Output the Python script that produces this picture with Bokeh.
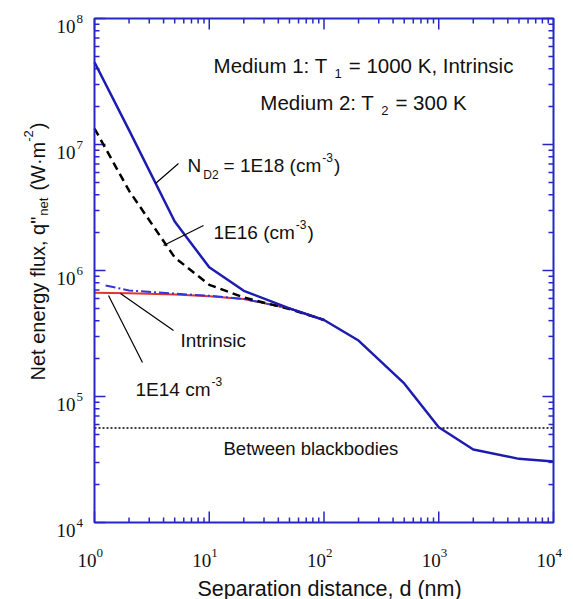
import math

from bokeh.embed import file_html
from bokeh.models import Label
from bokeh.plotting import figure
from bokeh.resources import INLINE

# ---------------------------------------------------------------- data
# separation distance d (nm) and net heat flux q'' (W/m^2)
d_full = [1, 2, 5, 10, 20, 50, 100, 200, 500, 1000, 2000, 5000, 10000]
q_1e18 = [4.5e7, 1.3e7, 2.45e6, 1.06e6, 6.9e5, 5.0e5, 4.05e5,
          2.78e5, 1.27e5, 5.7e4, 3.8e4, 3.2e4, 3.05e4]

d_near = [1, 2, 5, 10, 20, 50, 100]
q_1e16 = [1.34e7, 4.3e6, 1.27e6, 7.7e5, 6.1e5, 4.95e5, 4.05e5]
q_intrinsic = [6.65e5, 6.6e5, 6.45e5, 6.25e5, 5.95e5, 5.0e5, 4.05e5]

d_1e14 = [1.25, 2, 5, 10, 20, 50, 100]
q_1e14 = [7.6e5, 6.95e5, 6.55e5, 6.3e5, 5.95e5, 5.0e5, 4.05e5]

d_bb = [1, 10000]
q_bb = [5.62e4, 5.62e4]

x_decades = [0, 1, 2, 3, 4]
y_decades = [4, 5, 6, 7, 8]

# ---------------------------------------------------------------- styles
AXIS = "#2626c8"
BLUE = "#1c1cb0"
BLUE_DD = "#3434dc"
RED = "#e3342a"
INK = "#111111"
SANS = "Liberation Sans"
SERIF = "Liberation Serif"

# the plot box sits inside the canvas; the frame spans the whole canvas so
# that tick numbers and titles can be placed around the box
W, H = 573, 599
LEFT, RIGHT, TOP, BOTTOM = 94, 20, 18, 77
XMIN, XMAX = 10 ** x_decades[0], 10 ** x_decades[-1]
YMIN, YMAX = 10 ** y_decades[0], 10 ** y_decades[-1]
XDEC = (W - LEFT - RIGHT) / (x_decades[-1] - x_decades[0])
YDEC = (H - TOP - BOTTOM) / (y_decades[-1] - y_decades[0])


def px_x(px):
    """canvas pixel column -> data x"""
    return XMIN * 10 ** ((px - LEFT) / XDEC)


def px_y(py):
    """canvas pixel row -> data y"""
    return YMAX * 10 ** (-(py - TOP) / YDEC)


# Arial / Liberation Sans advance widths (1/1000 em)
ADV = {" ": 278, '"': 355, "(": 333, ")": 333, ",": 278, "-": 333, ":": 278,
       "=": 584, "·": 278, "−": 584,
       "B": 667, "D": 722, "E": 667, "I": 278, "K": 667, "M": 833, "N": 722,
       "S": 667, "T": 611, "W": 944,
       "a": 556, "b": 556, "c": 500, "d": 556, "e": 556, "f": 278, "g": 556,
       "i": 222, "k": 500, "l": 222, "m": 833, "n": 556, "o": 556, "p": 556,
       "q": 556, "r": 333, "s": 500, "t": 278, "u": 556, "w": 722, "x": 500,
       "y": 500}


def text_w(s, size):
    return sum(ADV.get(c, 556) for c in s) / 1000.0 * size


p = figure(width=W, height=H, x_axis_type="log", y_axis_type="log",
           x_range=(px_x(0), px_x(W)), y_range=(px_y(H), px_y(0)),
           x_axis_location=None, y_axis_location=None,
           output_backend="svg", toolbar_location=None,
           min_border=0, background_fill_color="white",
           border_fill_color="white")
p.grid.visible = False
p.outline_line_color = None

# ---------------------------------------------------------------- box and ticks
MAJOR, MINOR = 11, 5
fx_major, fx_minor = 10 ** (MAJOR / XDEC), 10 ** (MINOR / XDEC)
fy_major, fy_minor = 10 ** (MAJOR / YDEC), 10 ** (MINOR / YDEC)


def decade_ticks(decades):
    major = [10.0 ** k for k in decades]
    minor = [m * 10.0 ** k for k in decades[:-1] for m in range(2, 10)]
    return major, minor


xt_major, xt_minor = decade_ticks(x_decades)
yt_major, yt_minor = decade_ticks(y_decades)

for ticks, fy in ((xt_major, fy_major), (xt_minor, fy_minor)):
    n = len(ticks)
    p.segment(x0=ticks, x1=ticks, y0=[YMIN] * n, y1=[YMIN * fy] * n,
              line_color=AXIS, line_width=1.5)
    p.segment(x0=ticks, x1=ticks, y0=[YMAX] * n, y1=[YMAX / fy] * n,
              line_color=AXIS, line_width=1.5)
for ticks, fx in ((yt_major, fx_major), (yt_minor, fx_minor)):
    n = len(ticks)
    p.segment(x0=[XMIN] * n, x1=[XMIN * fx] * n, y0=ticks, y1=ticks,
              line_color=AXIS, line_width=1.5)
    p.segment(x0=[XMAX] * n, x1=[XMAX / fx] * n, y0=ticks, y1=ticks,
              line_color=AXIS, line_width=1.5)

# ---------------------------------------------------------------- curves
p.line(d_bb, q_bb, line_color="black", line_width=1.5, line_dash="2 2")
p.line(d_near, q_intrinsic, line_color=RED, line_width=2)
p.line(d_1e14, q_1e14, line_color=BLUE_DD, line_width=2, line_dash="10 3 2 3")
p.line(d_near, q_1e16, line_color="black", line_width=2.5, line_dash="8 5")
p.line(d_full, q_1e18, line_color=BLUE, line_width=2.5)

p.quad(left=[XMIN], right=[XMAX], bottom=[YMIN], top=[YMAX],
       fill_color=None, line_color=AXIS, line_width=2)


# ---------------------------------------------------------------- text
def put(px, py, s, size, font=SANS, angle=0.0, align="left"):
    p.add_layout(Label(x=px, y=py, x_units="canvas", y_units="canvas",
                       text=s, text_font=font,
                       text_font_size=f"{size}px", text_color=INK,
                       text_align=align, text_baseline="alphabetic",
                       angle=angle))


def rich(px, py, parts, rotated=False, center=False):
    """parts: (text, size, rise, gap) -- rise > 0 raises a superscript"""
    total = sum(g + text_w(t, s) for t, s, r, g in parts)
    cur = -total / 2 if center else 0.0
    for t, s, r, g in parts:
        cur += g
        if rotated:
            put(px - r, py - cur, t, s, angle=math.pi / 2)
        else:
            put(px + cur, py - r, t, s)
        cur += text_w(t, s)


# tick numbers: 10 with a raised exponent
for k in x_decades:
    tx = LEFT + (k - x_decades[0]) * XDEC
    put(tx + 2, 560, "10", 19, font=SERIF, align="right")
    put(tx + 2, 552, str(k), 13, font=SERIF)
for k in y_decades:
    ty = TOP + (y_decades[-1] - k) * YDEC
    put(75, ty + 8, "10", 19, font=SERIF, align="right")
    put(76, ty, str(k), 13, font=SERIF)

# axis titles
put(197, 588, "Separation distance, d (nm)", 21.5)
rich(37, 380, [('Net energy flux, q"', 20, 0, 0), ("net", 13, -6, 1),
               ("(W·m", 20, 0, 7), ("-2", 13, 9, 1), (")", 20, 0, 1)],
     rotated=True)

# conditions
rich(363, 64.5, [("Medium 1: T", 20.5, 0, 0), ("1", 13, -8, 7),
                 ("= 1000 K, Intrinsic", 20.5, 0, 7)], center=True)
rich(363, 101.5, [("Medium 2: T", 20.5, 0, 0), ("2", 13, -8, 7),
                  ("= 300 K", 20.5, 0, 7)], center=True)

# curve labels
rich(187, 165, [("N", 19, 0, 0), ("D2", 12, -9, 2), ("= 1E18 (cm", 19, 0, 5),
                ("-3", 12, 8, 1), (")", 19, 0, 1)])
rich(213, 232, [("1E16 (cm", 19, 0, 0), ("-3", 12, 8, 1), (")", 19, 0, 1)])
put(180, 340, "Intrinsic", 19)
rich(135, 389, [("1E14 cm", 19, 0, 0), ("-3", 12, 8, 1)])
put(223, 448, "Between blackbodies", 18.5)

# leader lines from labels to curves
leaders = [((155, 183), (178, 163)),
           ((163, 245), (203, 225)),
           ((120, 293), (173, 330)),
           ((108, 295), (142, 362))]
p.segment(x0=[px_x(a[0]) for a, b in leaders], y0=[px_y(a[1]) for a, b in leaders],
          x1=[px_x(b[0]) for a, b in leaders], y1=[px_y(b[1]) for a, b in leaders],
          line_color="black", line_width=1.2)

with open("out.html", "w") as f:
    f.write(file_html(p, INLINE))
